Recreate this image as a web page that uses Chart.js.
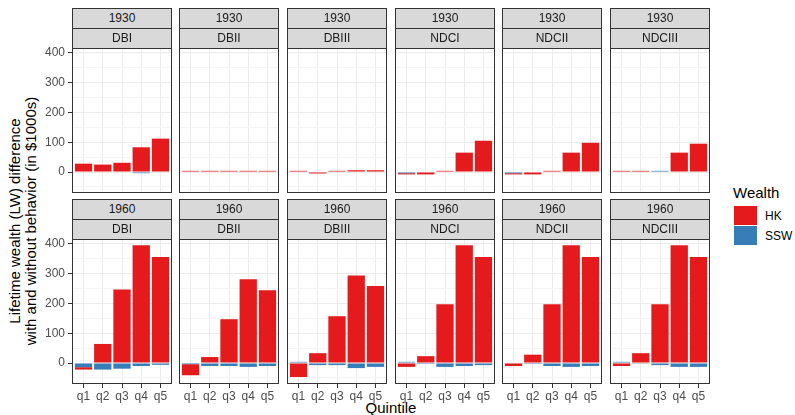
<!DOCTYPE html>
<html>
<head>
<meta charset="utf-8">
<script src="https://cdn.jsdelivr.net/npm/chart.js@4.4.0/dist/chart.umd.min.js"></script>
<style>
  html, body { margin: 0; padding: 0; background: #fff; }
  #fig { position: relative; width: 795px; height: 415px; overflow: hidden;
         font-family: "Liberation Sans", Arial, sans-serif; background: #fff; }
  .strip { position: absolute; box-sizing: border-box; border: 1px solid #333;
           background: #D9D9D9; color: #1A1A1A; font-size: 12px; line-height: 19px;
           text-align: center; z-index: 2; }
  canvas { position: absolute; z-index: 1; }
  .txt { position: absolute; color: #000; white-space: nowrap; }
  .key { position: absolute; width: 23px; height: 19px; }
</style>
</head>
<body>
<div id="fig"></div>
<script>
// Facets: birth cohort (rows) x pension scheme (columns)
const cohorts = ['1930', '1960'];
const schemes = ['DBI', 'DBII', 'DBIII', 'NDCI', 'NDCII', 'NDCIII'];
const quintiles = ['q1', 'q2', 'q3', 'q4', 'q5'];
const yTickValues = [-50, 0, 50, 100, 150, 200, 250, 300, 350, 400];

// Lifetime wealth difference (in $1000s), one row per scheme, one value per quintile
const hk1930 = [
  [28, 25, 31, 83, 112],   // DBI
  [4, 4, 4, 4, 4],         // DBII
  [4, -5, 4, 6, 6],        // DBIII
  [-4, -8, 4, 65, 105],    // NDCI
  [-4, -8, 4, 65, 98],     // NDCII
  [4, 4, 0, 65, 95]        // NDCIII
];
const ssw1930 = [
  [0, 0, 0, -4, 0],
  [0, 0, 0, 0, 0],
  [0, 0, 0, 0, 0],
  [-4, 0, 0, 0, 0],
  [-4, 0, 0, 0, 0],
  [0, 0, 4, 0, 0]
];
const hk1960 = [
  [-8, 64, 247, 395, 356],
  [-37, 20, 147, 281, 244],
  [-47, 33, 157, 294, 258],
  [-13, 23, 197, 395, 356],
  [-10, 28, 197, 395, 356],
  [-10, 33, 197, 395, 356]
];
const ssw1960 = [
  [-14, -22, -19, -10, -6],
  [-4, -10, -10, -13, -10],
  [4, -7, -7, -17, -13],
  [4, -3, -13, -10, -7],
  [0, -3, -10, -13, -10],
  [4, -1, -7, -13, -13]
];

const hkByCohort = [hk1930, hk1960];
const sswByCohort = [ssw1930, ssw1960];

const HK_COLOR = '#E41A1C';
const SSW_COLOR = '#377EB8';
const FONT = '"Liberation Sans", Arial, sans-serif';

Chart.defaults.font.family = FONT;

// Panel geometry
const panelLefts = [72, 179, 287, 395, 502, 610];
const panelTops = [48, 239];
const PW = 100, PH = 145, M = 4, STRIP_H = 20;
const Y_MIN = -70.4, Y_MAX = 416.1;

const fig = document.getElementById('fig');

const panelFrame = {
  id: 'panelFrame',
  afterDraw(chart) {
    const { ctx, chartArea: a } = chart;
    ctx.save();
    ctx.strokeStyle = '#333333';
    ctx.lineWidth = 1;
    ctx.strokeRect(a.left + 0.5, a.top + 0.5, a.right - a.left - 1, a.bottom - a.top - 1);
    ctx.restore();
  }
};

function addStrip(text, left, top) {
  const d = document.createElement('div');
  d.className = 'strip';
  d.style.left = left + 'px';
  d.style.top = top + 'px';
  d.style.width = PW + 'px';
  d.style.height = (STRIP_H + 1) + 'px';
  d.textContent = text;
  fig.appendChild(d);
}

cohorts.forEach((cohort, r) => {
  schemes.forEach((scheme, c) => {
    const left = panelLefts[c];
    const top = panelTops[r];
    addStrip(cohort, left, top - 2 * STRIP_H);
    addStrip(scheme, left, top - STRIP_H);

    const padL = c === 0 ? 40 : 0;
    const padB = r === 1 ? 24 : 0;
    const cv = document.createElement('canvas');
    const w = PW + padL + 2 * M;
    const h = PH + padB + 2 * M;
    cv.width = w; cv.height = h;
    cv.style.width = w + 'px'; cv.style.height = h + 'px';
    cv.style.left = (left - padL - M) + 'px';
    cv.style.top = (top - M) + 'px';
    fig.appendChild(cv);

    const toPoints = arr => arr.map((v, i) => ({ x: i + 1, y: v }));

    new Chart(cv, {
      type: 'bar',
      data: {
        datasets: [
          { label: 'SSW', data: toPoints(sswByCohort[r][c]), backgroundColor: SSW_COLOR },
          { label: 'HK', data: toPoints(hkByCohort[r][c]), backgroundColor: HK_COLOR }
        ]
      },
      options: {
        responsive: false,
        animation: false,
        devicePixelRatio: 1,
        layout: { padding: M },
        events: [],
        plugins: { legend: { display: false }, tooltip: { enabled: false } },
        datasets: { bar: { barPercentage: 0.9, categoryPercentage: 1, borderWidth: 0 } },
        scales: {
          x: {
            type: 'linear', min: 0.4, max: 5.6, stacked: true, offset: false,
            afterBuildTicks: s => { s.ticks = quintiles.map((q, i) => ({ value: i + 1 })); },
            afterFit: s => { s.height = padB; s.paddingLeft = 0; s.paddingRight = 0; },
            border: { display: false },
            grid: { offset: false, color: '#EBEBEB', lineWidth: 1, drawTicks: r === 1,
                    tickLength: 4, tickColor: '#333333', tickWidth: 1 },
            ticks: { display: r === 1, callback: v => quintiles[Math.round(v) - 1],
                     color: '#4D4D4D', font: { size: 12 }, padding: 1,
                     maxRotation: 0, autoSkip: false }
          },
          y: {
            min: Y_MIN, max: Y_MAX, stacked: true,
            afterBuildTicks: s => { s.ticks = yTickValues.map(v => ({ value: v })); },
            afterFit: s => { s.width = padL; s.paddingTop = 0; s.paddingBottom = 0; },
            border: { display: false },
            grid: {
              color: ctx => (ctx.tick && ctx.tick.value % 100 === 0) ? '#EBEBEB' : '#F4F4F4',
              lineWidth: 1,
              drawTicks: c === 0,
              tickLength: 4,
              tickWidth: 1,
              tickColor: ctx => (ctx.tick && ctx.tick.value % 100 === 0) ? '#333333' : 'rgba(0,0,0,0)'
            },
            ticks: { display: c === 0, callback: v => (v % 100 === 0 ? String(v) : ''),
                     color: '#4D4D4D', font: { size: 12 }, padding: 3, autoSkip: false }
          }
        }
      },
      plugins: [panelFrame]
    });
  });
});

// Axis titles
const yTitle = document.createElement('div');
yTitle.className = 'txt';
yTitle.style.cssText += 'left:-127px;top:205px;width:300px;height:32px;font-size:15px;line-height:16px;text-align:center;transform:rotate(-90deg);transform-origin:50% 50%;';
yTitle.innerHTML = 'Lifetime wealth (LW) difference<br>with and without behavior (in $1000s)';
fig.appendChild(yTitle);

const xTitle = document.createElement('div');
xTitle.className = 'txt';
xTitle.style.cssText += 'left:291px;top:399px;width:200px;text-align:center;font-size:15px;line-height:18px;';
xTitle.textContent = 'Quintile';
fig.appendChild(xTitle);

// Legend
const legTitle = document.createElement('div');
legTitle.className = 'txt';
legTitle.style.cssText += 'left:733px;top:184px;font-size:15px;line-height:18px;';
legTitle.textContent = 'Wealth';
fig.appendChild(legTitle);

[['HK', HK_COLOR, 206], ['SSW', SSW_COLOR, 226]].forEach(([name, color, y]) => {
  const k = document.createElement('div');
  k.className = 'key';
  k.style.left = '734px'; k.style.top = y + 'px'; k.style.background = color;
  fig.appendChild(k);
  const t = document.createElement('div');
  t.className = 'txt';
  t.style.cssText += 'left:765px;top:' + (y + 1) + 'px;font-size:12px;line-height:18px;color:#000;';
  t.textContent = name;
  fig.appendChild(t);
});
</script>
</body>
</html>
